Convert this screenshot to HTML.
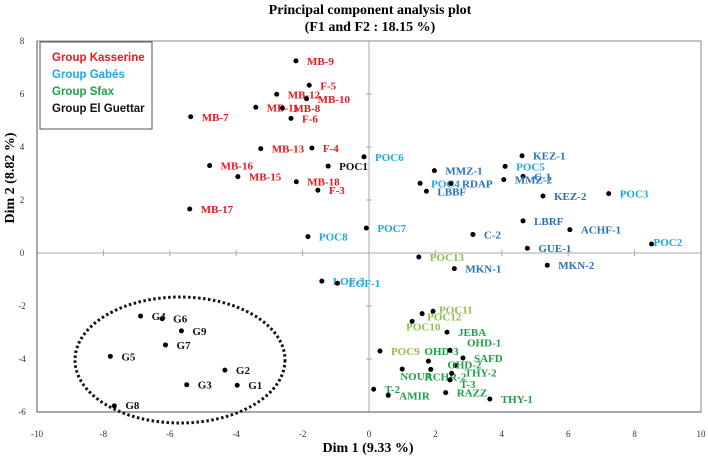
<!DOCTYPE html>
<html><head><meta charset="utf-8"><style>
body{margin:0;background:#fff;}
svg text{font-family:"Liberation Serif",serif;}
</style></head><body>
<svg id="chart" width="708" height="459" xmlns="http://www.w3.org/2000/svg"></svg>
<script>
const labels=["MB-9","F-5","MB-12","MB-10","MB-11","MB-8","F-6","MB-7","MB-13","F-4","MB-16","POC1","MB-15","MB-18","F-3","MB-17",
"POC6","POC8","POC7","KEZ-1","POC5","MMZ-1","C-1","POC4","RDAP","MMZ-2","LBBF","KEZ-2","POC3","LBRF","ACHF-1","C-2","POC2","GUE-1","MKN-1","MKN-2","LOF-3","EGF-1",
"POC13","POC11","POC12","POC10","POC9","JEBA","OHD-3","OHD-1","SAFD","OHD-2","NOUR","ACHR-2","THY-2","T-3","T-2","AMIR","RAZZ","THY-1",
"G4","G6","G9","G7","G5","G2","G3","G1","G8"];
const xs=[-2.2,-1.8,-2.78,-1.88,-3.41,-2.61,-2.35,-5.37,-3.26,-1.72,-4.8,-1.23,-3.95,-2.19,-1.54,-5.4,
-0.15,-1.84,-0.08,4.61,4.1,1.97,4.64,1.54,2.47,4.06,1.73,5.24,7.22,4.64,6.05,3.13,8.51,4.77,2.57,5.37,-1.42,-0.95,
1.5,1.93,1.6,1.3,0.33,2.35,1.79,2.44,2.83,2.6,1.0,1.86,2.49,2.44,0.14,0.58,2.31,3.64,
-6.88,-6.23,-5.65,-6.13,-7.79,-4.34,-5.49,-3.97,-7.67];
const ys=[7.25,6.33,5.99,5.82,5.5,5.47,5.08,5.14,3.94,3.96,3.3,3.28,2.88,2.69,2.37,1.66,
3.63,0.62,0.94,3.67,3.27,3.11,2.89,2.63,2.62,2.77,2.33,2.15,2.24,1.21,0.88,0.7,0.34,0.18,-0.59,-0.46,-1.06,-1.14,
-0.15,-2.2,-2.29,-2.58,-3.7,-2.99,-4.08,-3.67,-3.96,-4.24,-4.38,-4.39,-4.54,-4.79,-5.14,-5.37,-5.27,-5.51,
-2.38,-2.48,-2.94,-3.47,-3.9,-4.42,-4.97,-4.99,-5.77];
const groups=["K","K","K","K","K","K","K","K","K","K","K","E","K","K","K","K",
"G","G","G","B","G","B","B","G","B","B","B","B","G","B","B","B","G","B","B","B","G","G",
"L","L","L","L","L","S","S","S","S","S","S","S","S","S","S","S","S","S",
"E","E","E","E","E","E","E","E","E"];
const xTicks=[-10,-8,-6,-4,-2,0,2,4,6,8,10];
const yTicks=[-6,-4,-2,0,2,4,6,8];
const colors={K:"#e8191e",G:"#1aa9e0",B:"#2a72b8",L:"#8fc04f",S:"#1f9e48",E:"#111"};
const offs={"OHD-3":[-4,-6],"OHD-1":[17,-4],"OHD-2":[-8,3],"NOUR":[-2,11],"ACHR-2":[-6,11],"THY-2":[13,3],"T-3":[10,8],
"POC11":[6,2],"POC12":[5,7],"POC10":[-6,9],"POC2":[2,2],"LOF-3":[11,4],"G8":[11,3]};
const X=v=>369+v*33.2, Y=v=>253-v*26.5;
const svg=document.getElementById('chart');const NS="http://www.w3.org/2000/svg";
function mk(t,a,p){const e=document.createElementNS(NS,t);for(const k in a)e.setAttribute(k,a[k]);(p||svg).appendChild(e);return e;}
let e;
e=mk('rect',{x:X(-10),y:Y(8),width:X(10)-X(-10),height:Y(-6)-Y(8),fill:"none",stroke:"#888","stroke-width":1});


e=mk('line',{x1:X(-10),y1:Y(0),x2:X(10),y2:Y(0),stroke:"#aaa"});


e=mk('line',{x1:X(0),y1:Y(8),x2:X(0),y2:Y(-6),stroke:"#aaa"});


e=mk('line',{x1:X(-10),y1:Y(8),x2:X(-10),y2:Y(-6),stroke:"#555"});


e=mk('line',{x1:X(-10),y1:Y(-6),x2:X(10),y2:Y(-6),stroke:"#555"});


xTicks.forEach(t=>{
 if(t>-10&&t<10){e=mk('line',{x1:X(t),y1:Y(0)-3,x2:X(t),y2:Y(0)+3,stroke:"#aaa"});
 
 }
 e=mk('text',{x:X(t),y:437,"font-size":9,"text-anchor":"middle",fill:"#333"});e.textContent=t;
 
 
});
yTicks.forEach(t=>{
 if(t>-6&&t<8){e=mk('line',{x1:X(0)-3,y1:Y(t),x2:X(0)+3,y2:Y(t),stroke:"#aaa"});
 
 }
 e=mk('text',{x:22,y:Y(t)+3,"font-size":9,"text-anchor":"middle",fill:"#333"});e.textContent=t;
 
 
});
e=mk('ellipse',{cx:180,cy:360,rx:105,ry:63,fill:"none",stroke:"#111","stroke-width":3,"stroke-dasharray":"2.5 2.5"});


labels.forEach((l,i)=>{
 const px=X(xs[i]),py=Y(ys[i]);
 e=mk('circle',{cx:px,cy:py,r:2.5,fill:"#000"});
 
 
 const o=offs[l]||[11,4];
 e=mk('text',{x:px+o[0],y:py+o[1],"font-size":11,"font-weight":"bold",fill:colors[groups[i]]});e.textContent=l;
 
 
});
e=mk('rect',{x:40,y:42,width:112,height:87,fill:"#fff",stroke:"#555"});


[["Group Kasserine","#e8191e"],["Group Gabés","#1aa9e0"],["Group Sfax","#1f9e48"],["Group El Guettar","#111"]].forEach((g,i)=>{
 e=mk('text',{x:52,y:61+i*17,"font-size":11.5,"font-weight":"bold",fill:g[1],style:"font-family:'Liberation Sans',sans-serif"});e.textContent=g[0];
 
 
});
e=mk('text',{x:370,y:14,"font-size":14,"font-weight":"bold","text-anchor":"middle"});e.textContent="Principal component analysis plot";


e=mk('text',{x:370,y:31,"font-size":14,"font-weight":"bold","text-anchor":"middle"});e.textContent="(F1 and F2 : 18.15 %)";


e=mk('text',{x:368,y:452,"font-size":14,"font-weight":"bold","text-anchor":"middle"});e.textContent="Dim  1 (9.33 %)";


e=mk('text',{x:0,y:0,"font-size":14,"font-weight":"bold","text-anchor":"middle",transform:"translate(14,178) rotate(-90)"});e.textContent="Dim 2 (8.82 %)";


</script>
</body></html>
